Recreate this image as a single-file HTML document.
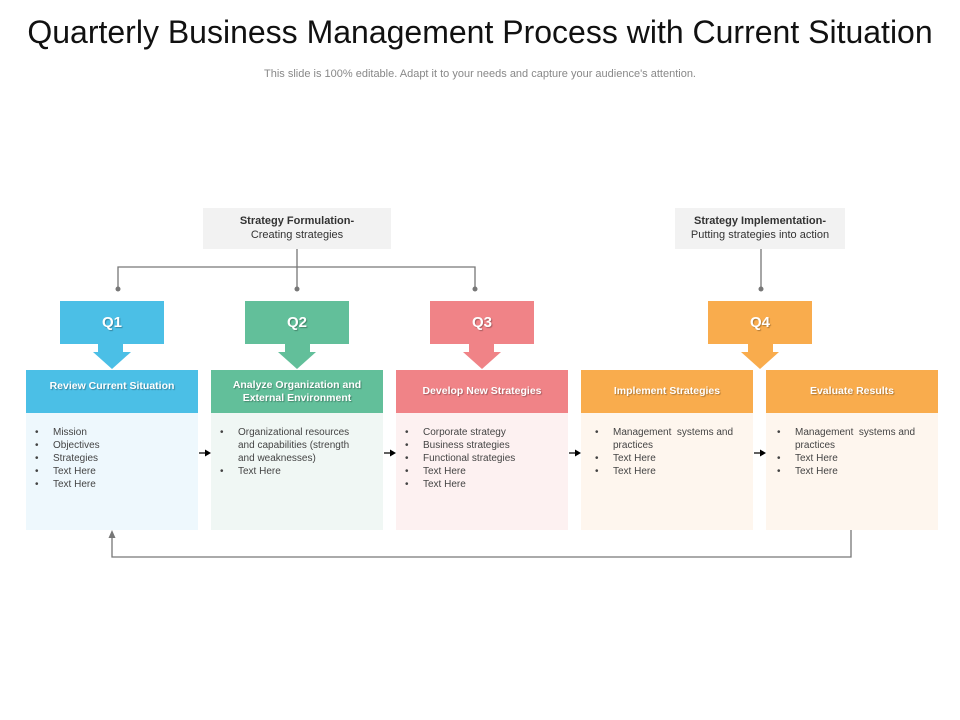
<!DOCTYPE html>
<html><head><meta charset="utf-8"><style>
*{margin:0;padding:0;box-sizing:border-box}
body{width:960px;height:720px;background:#fff;position:relative;overflow:hidden;font-family:"Liberation Sans",sans-serif}
.a{position:absolute}
.title{left:0;width:960px;top:14px;text-align:center;font-size:32px;color:#111}
.sub{left:0;width:960px;top:68px;text-align:center;font-size:11px;color:#888}
.lab{background:#f2f2f2;text-align:center;font-size:11px;color:#333;line-height:14px;padding-top:6px}
.q{width:104px;height:43px;color:#fff;font-weight:bold;font-size:15px;text-align:center;line-height:43px;text-shadow:1px 1px 1px rgba(0,0,0,.3)}
.hd{width:172px;height:43px;color:#fff;font-weight:bold;font-size:10.5px;text-align:center;display:flex;align-items:center;justify-content:center;line-height:13px;text-shadow:1px 1px 1px rgba(0,0,0,.3)}
.bd{width:172px;height:117px;top:413px;font-size:10px;color:#444;line-height:13px;padding:13px 8px 0 27px}
.bd div{position:relative}
.bd div:before{content:"•";position:absolute;left:-18px}
</style></head><body>
<div class="a title">Quarterly Business Management Process with Current Situation</div>
<div class="a sub">This slide is 100% editable. Adapt it to your needs and capture your audience's attention.</div>

<div class="a lab" style="left:203px;top:208px;width:188px;height:41px"><b>Strategy Formulation-</b><br>Creating strategies</div>
<div class="a lab" style="left:675px;top:208px;width:170px;height:41px"><b>Strategy Implementation-</b><br>Putting strategies into action</div>

<svg class="a" style="left:0;top:0" width="960" height="720">
<g stroke="#777" stroke-width="1.3" fill="none">
<path d="M297 249V267M118 289V267H475V289M297 267V289M761 249V289"/>
<path d="M851 530V557H112V536"/>
</g>
<g fill="#777"><circle cx="118" cy="289" r="2.5"/><circle cx="297" cy="289" r="2.5"/><circle cx="475" cy="289" r="2.5"/><circle cx="761" cy="289" r="2.5"/>
<path d="M108.5 538L112 530L115.5 538Z"/></g>
<g fill="#4bbfe6"><rect x="98" y="343" width="25" height="10"/><path d="M93 352H131L112 369Z"/></g>
<g fill="#62bf9a"><rect x="285" y="343" width="25" height="10"/><path d="M278 352H316L297 369Z"/></g>
<g fill="#f08387"><rect x="469" y="343" width="25" height="10"/><path d="M463 352H501L482 369Z"/></g>
<g fill="#f9ac4d"><rect x="748" y="343" width="25" height="10"/><path d="M741 352H779L760 369Z"/></g>
<g stroke="#000" stroke-width="1.2"><path d="M199 453H208M384 453H393M569 453H578M754 453H763"/></g>
<g fill="#000"><path d="M211 453L205 449.5V456.5Z"/><path d="M396 453L390 449.5V456.5Z"/><path d="M581 453L575 449.5V456.5Z"/><path d="M766 453L760 449.5V456.5Z"/></g>
</svg>

<div class="a q" style="left:60px;top:301px;background:#4bbfe6">Q1</div>
<div class="a q" style="left:245px;top:301px;background:#62bf9a">Q2</div>
<div class="a q" style="left:430px;top:301px;background:#f08387">Q3</div>
<div class="a q" style="left:708px;top:301px;background:#f9ac4d">Q4</div>

<div class="a hd" style="left:26px;top:370px;background:#4bbfe6;align-items:flex-start;padding-top:10px">Review Current Situation</div>
<div class="a hd" style="left:211px;top:370px;background:#62bf9a">Analyze Organization and<br>External Environment</div>
<div class="a hd" style="left:396px;top:370px;background:#f08387">Develop New Strategies</div>
<div class="a hd" style="left:581px;top:370px;background:#f9ac4d">Implement Strategies</div>
<div class="a hd" style="left:766px;top:370px;background:#f9ac4d">Evaluate Results</div>

<div class="a bd" style="left:26px;background:#eef8fd"><div>Mission</div><div>Objectives</div><div>Strategies</div><div>Text Here</div><div>Text Here</div></div>
<div class="a bd" style="left:211px;background:#f0f7f4;padding-right:18px"><div>Organizational resources and capabilities (strength and weaknesses)</div><div>Text Here</div></div>
<div class="a bd" style="left:396px;background:#fdf1f1"><div>Corporate strategy</div><div>Business strategies</div><div>Functional strategies</div><div>Text Here</div><div>Text Here</div></div>
<div class="a bd" style="left:581px;background:#fef6ee;padding-left:32px"><div>Management&nbsp; systems and practices</div><div>Text Here</div><div>Text Here</div></div>
<div class="a bd" style="left:766px;background:#fef6ee;padding-left:29px"><div>Management&nbsp; systems and practices</div><div>Text Here</div><div>Text Here</div></div>
</body></html>
